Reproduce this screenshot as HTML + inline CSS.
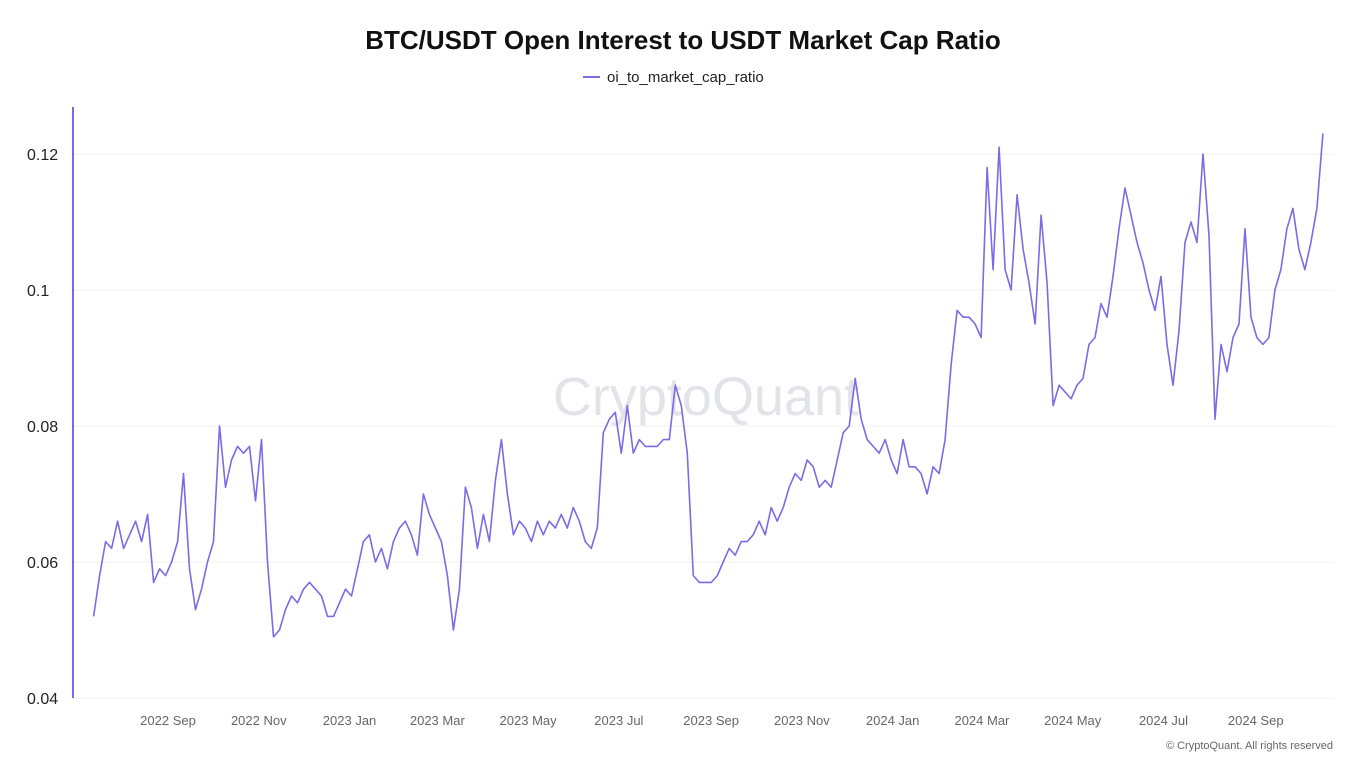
<!DOCTYPE html>
<html><head><meta charset="utf-8">
<style>
html,body{margin:0;padding:0;background:#fff;}
body{width:1366px;height:768px;overflow:hidden;font-family:"Liberation Sans",sans-serif;}
</style></head>
<body>
<svg id="chart" width="1366" height="768" xmlns="http://www.w3.org/2000/svg" font-family="Liberation Sans, sans-serif">
<text x="683" y="49" text-anchor="middle" font-size="26" font-weight="bold" fill="#111">BTC/USDT Open Interest to USDT Market Cap Ratio</text>
<g>
<line x1="583" y1="77" x2="600" y2="77" stroke="#7b6be6" stroke-width="2"/>
<text x="607" y="82" font-size="15" fill="#222">oi_to_market_cap_ratio</text>
</g>
<text x="706" y="415" text-anchor="middle" font-size="54" fill="#e3e3ea">CryptoQuant</text>
<g id="grid"></g>
<g id="yticks"></g>
<g id="xticks"></g>
<line x1="73" y1="107" x2="73" y2="698" stroke="#7b6be6" stroke-width="2"/>
<path id="series" fill="none" stroke="#7b6be6" stroke-width="1.6" stroke-linejoin="round"/>
<text x="1333" y="749" text-anchor="end" font-size="11" fill="#666">© CryptoQuant. All rights reserved</text>
</svg>
<script>
const startDate = "2022-07-13";
const stepDays = 4.03;
const values = [
.052,.058,.063,.062,.066,.062,.064,.066,.063,.067,.057,.059,.058,.060,.063,.073,.059,.053,.056,.060,
.063,.080,.071,.075,.077,.076,.077,.069,.078,.060,.049,.050,.053,.055,.054,.056,.057,.056,.055,.052,
.052,.054,.056,.055,.059,.063,.064,.060,.062,.059,.063,.065,.066,.064,.061,.070,.067,.065,.063,.058,
.050,.056,.071,.068,.062,.067,.063,.072,.078,.070,.064,.066,.065,.063,.066,.064,.066,.065,.067,.065,
.068,.066,.063,.062,.065,.079,.081,.082,.076,.083,.076,.078,.077,.077,.077,.078,.078,.086,.083,.076,
.058,.057,.057,.057,.058,.060,.062,.061,.063,.063,.064,.066,.064,.068,.066,.068,.071,.073,.072,.075,
.074,.071,.072,.071,.075,.079,.080,.087,.081,.078,.077,.076,.078,.075,.073,.078,.074,.074,.073,.070,
.074,.073,.078,.089,.097,.096,.096,.095,.093,.118,.103,.121,.103,.100,.114,.106,.101,.095,.111,.101,
.083,.086,.085,.084,.086,.087,.092,.093,.098,.096,.102,.109,.115,.111,.107,.104,.100,.097,.102,.092,
.086,.094,.107,.110,.107,.120,.108,.081,.092,.088,.093,.095,.109,.096,.093,.092,.093,.100,.103,.109,
.112,.106,.103,.107,.112,.123];
const yTicks = [0.04,0.06,0.08,0.1,0.12];
const yTickLabels = ["0.04","0.06","0.08","0.1","0.12"];
const xTickDates = ["2022-09-01","2022-11-01","2023-01-01","2023-03-01","2023-05-01","2023-07-01","2023-09-01","2023-11-01","2024-01-01","2024-03-01","2024-05-01","2024-07-01","2024-09-01"];
const xTickLabels = ["2022 Sep","2022 Nov","2023 Jan","2023 Mar","2023 May","2023 Jul","2023 Sep","2023 Nov","2024 Jan","2024 Mar","2024 May","2024 Jul","2024 Sep"];

const NS="http://www.w3.org/2000/svg";
const DAY=86400000;
const ref=Date.parse("2022-09-01");
function xScale(t){return 168+(t-ref)/DAY*1.488;}
function yScale(v){return 698-(v-0.04)/0.02*136;}
const t0=Date.parse(startDate);
let d="";
values.forEach((v,i)=>{const x=xScale(t0+i*stepDays*DAY);d+=(i?"L":"M")+x.toFixed(1)+","+yScale(v).toFixed(1);});
document.getElementById("series").setAttribute("d",d);
const grid=document.getElementById("grid"),yt=document.getElementById("yticks"),xt=document.getElementById("xticks");
yTicks.forEach((v,i)=>{
  const y=yScale(v);
  const l=document.createElementNS(NS,"line");
  l.setAttribute("x1",73);l.setAttribute("x2",1333);l.setAttribute("y1",y);l.setAttribute("y2",y);
  l.setAttribute("stroke","#f1f1f1");
  
  
  grid.appendChild(l);
  const t=document.createElementNS(NS,"text");
  t.setAttribute("x",27);t.setAttribute("y",y+6);t.setAttribute("font-size","16");t.setAttribute("fill","#222");
  t.textContent=yTickLabels[i];
  
  
  yt.appendChild(t);
});
xTickDates.forEach((s,i)=>{
  const t=document.createElementNS(NS,"text");
  t.setAttribute("x",xScale(Date.parse(s)));t.setAttribute("y",725);t.setAttribute("text-anchor","middle");
  t.setAttribute("font-size","13");t.setAttribute("fill","#666");
  t.textContent=xTickLabels[i];
  
  
  xt.appendChild(t);
});
</script>
</body></html>
